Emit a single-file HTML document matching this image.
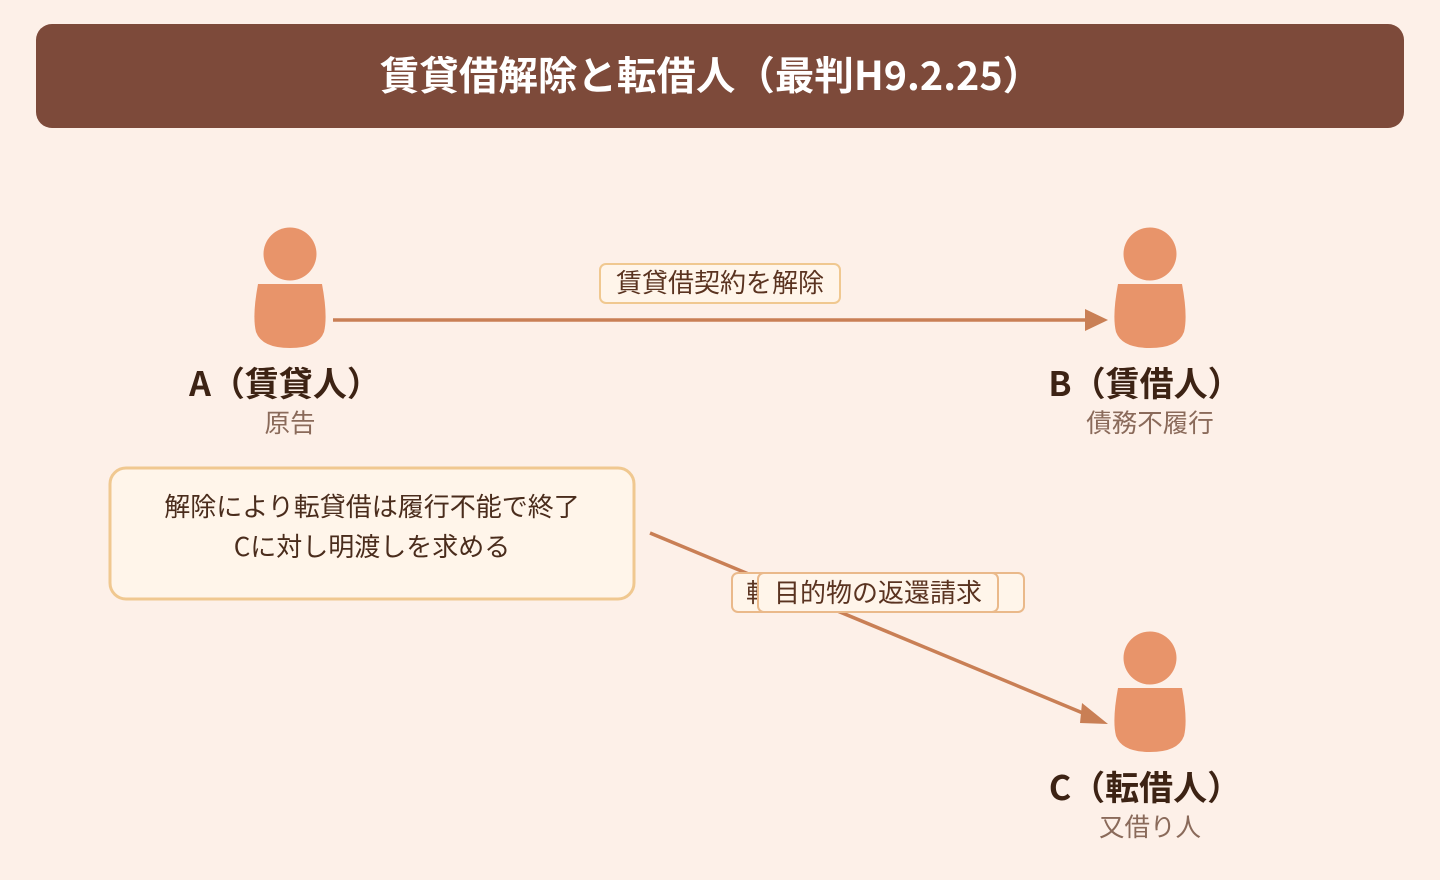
<!DOCTYPE html>
<html><head><meta charset="utf-8"><style>
body{margin:0;width:1440px;height:880px;background:#fdf0e8;overflow:hidden;font-family:"Noto Sans CJK JP",sans-serif}
text{font-family:"Noto Sans CJK JP",sans-serif}
</style></head><body>
<svg width="1440" height="880" xmlns="http://www.w3.org/2000/svg" style="position:absolute;left:0;top:0">
<rect width="1440" height="880" fill="#fdf0e8"/>
<rect x="36" y="24" width="1368" height="104" rx="16" fill="#7d4a3a"/>
<text x="711" y="90" text-anchor="middle" font-size="39.5" font-weight="bold" fill="#fff">賃貸借解除と転借人（最判H9.2.25）</text>
<defs>
<g id="p"><circle cx="0" cy="0" r="26.5" fill="#e8946a"/>
<path d="M-32,30 L32,30 Q38,62 34,78 Q28,94 0,94 Q-28,94 -34,78 Q-38,62 -32,30 Z" fill="#e8946a"/></g>
</defs>
<use href="#p" x="290" y="254"/>
<use href="#p" x="1150" y="254"/>
<use href="#p" x="1150" y="658"/>
<line x1="333" y1="320" x2="1088" y2="320" stroke="#c97f55" stroke-width="3.5"/>
<polygon points="1108,320 1085,309 1085,331" fill="#c97f55"/>
<line x1="650" y1="533" x2="1090" y2="716" stroke="#c97f55" stroke-width="3.5"/>
<polygon points="1108,724 1082,703 1080,723" fill="#c97f55"/>
<rect x="600" y="264" width="240" height="39" rx="6" fill="#fff5ea" stroke="#f0c890" stroke-width="2"/>
<text x="720" y="292" text-anchor="middle" font-size="26" fill="#5a3320">賃貸借契約を解除</text>
<rect x="732" y="573" width="292" height="39" rx="6" fill="#fff5ea" stroke="#eab98a" stroke-width="2"/>
<text x="746" y="602" font-size="26" fill="#5a3320">転</text>
<rect x="758" y="573" width="240" height="39" rx="6" fill="#fff5ea" stroke="#eab98a" stroke-width="2"/>
<text x="878" y="602" text-anchor="middle" font-size="26" fill="#5a3320">目的物の返還請求</text>
<rect x="110" y="468" width="524" height="131" rx="16" fill="#fff5ea" stroke="#f0c890" stroke-width="3"/>
<text x="372" y="516" text-anchor="middle" font-size="26" fill="#4a2c1c">解除により転貸借は履行不能で終了</text>
<text x="372" y="556" text-anchor="middle" font-size="26" fill="#4a2c1c">Cに対し明渡しを求める</text>
<text x="285" y="396" text-anchor="middle" font-size="34" font-weight="bold" fill="#3d2314">A（賃貸人）</text>
<text x="290" y="432" text-anchor="middle" font-size="25.5" fill="#8a6a5a">原告</text>
<text x="1145" y="396" text-anchor="middle" font-size="34" font-weight="bold" fill="#3d2314">B（賃借人）</text>
<text x="1150" y="432" text-anchor="middle" font-size="25.5" fill="#8a6a5a">債務不履行</text>
<text x="1145" y="800" text-anchor="middle" font-size="34" font-weight="bold" fill="#3d2314">C（転借人）</text>
<text x="1150" y="836" text-anchor="middle" font-size="25.5" fill="#8a6a5a">又借り人</text>
</svg>
</body></html>
